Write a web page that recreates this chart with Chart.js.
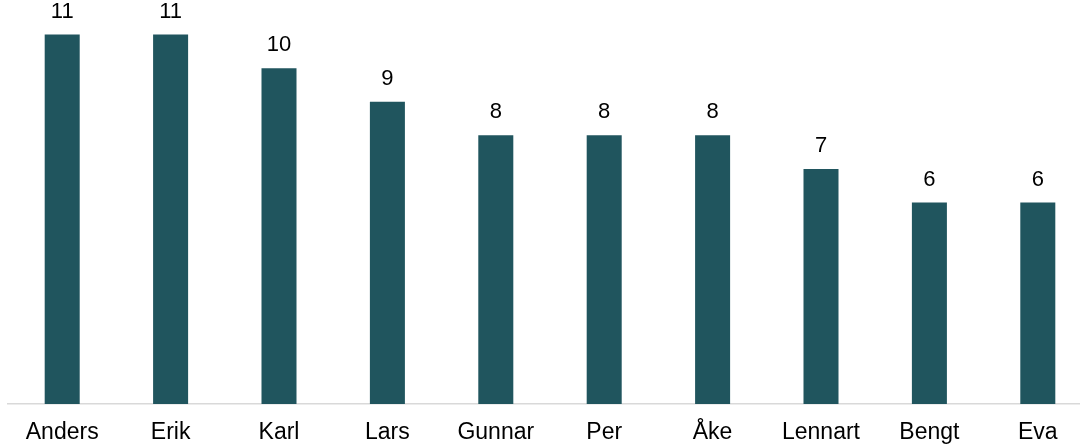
<!DOCTYPE html>
<html>
<head>
<meta charset="utf-8">
<script src="https://cdn.jsdelivr.net/npm/chart.js@4"></script>
<style>
    html, body { margin: 0; padding: 0; background: #fff; overflow: hidden; }
    #wrap { width: 1092px; height: 446px; position: relative; }
</style>
</head>
<body>
<div id="wrap"><canvas id="namesChart"></canvas></div>
<script>
// --- Data ---
let names = ["Anders", "Erik", "Karl", "Lars", "Gunnar", "Per", "Åke", "Lennart", "Bengt", "Eva"];
let counts = [11, 11, 10, 9, 8, 8, 8, 7, 6, 6];
let yMax = 12;

// --- Value labels above bars ---
let valueLabels = {
    id: "valueLabels",
    afterDatasetsDraw(chart){
        let ctx = chart.ctx;
        let meta = chart.getDatasetMeta(0);
        ctx.save();
        ctx.font = "22px 'Liberation Sans', Arial, sans-serif";
        ctx.fillStyle = "#000";
        ctx.textAlign = "center";
        ctx.textBaseline = "alphabetic";
        meta.data.forEach((bar, i) => {
            ctx.fillText(String(counts[i]), bar.x, bar.y - 17);
        });
        ctx.restore();
    }
};

let ctx = document.getElementById("namesChart").getContext("2d");
new Chart(ctx, {
    type: 'bar',
    data: {
        labels: names,
        datasets: [{
            data: counts,
            backgroundColor: "#20555e",
            categoryPercentage: 1,
            barPercentage: 0.323
        }]
    },
    options: {
        responsive: true,
        maintainAspectRatio: false,
        animation: false,
        layout: { padding: { top: 1, left: 8, right: 0, bottom: 0 } },
        plugins: { legend: { display: false }, tooltip: { enabled: false } },
        scales: {
            x: {
                grid: { display: false, drawTicks: false },
                border: { color: "#d9d9d9", width: 1.5 },
                afterFit(scale){ scale.height = 42; },
                ticks: {
                    color: "#000",
                    padding: 15,
                    maxRotation: 0,
                    font: { family: "'Liberation Sans', Arial, sans-serif", size: 23 }
                }
            },
            y: {
                display: false,
                min: 0,
                max: yMax
            }
        }
    },
    plugins: [valueLabels]
});
</script>
</body>
</html>
